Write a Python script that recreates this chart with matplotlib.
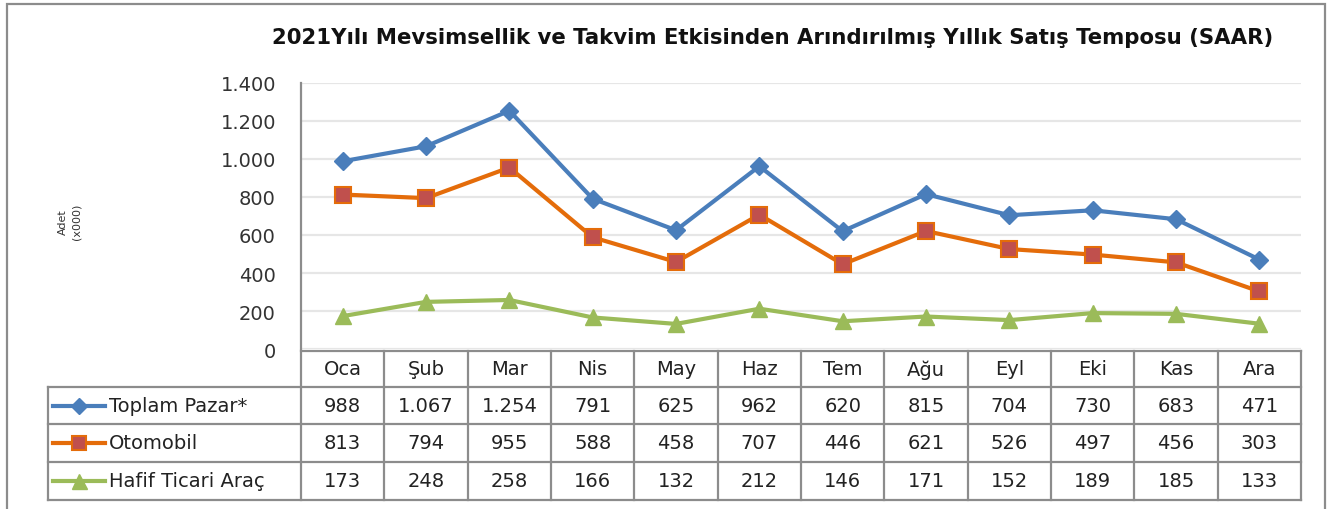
"""
    2021 SAAR chart with data table underneath
"""
import numpy as np
import matplotlib.pyplot as plt
from matplotlib.lines import Line2D
from matplotlib.patches import Rectangle

months = ["Oca", "Şub", "Mar", "Nis", "May", "Haz", "Tem", "Ağu", "Eyl", "Eki", "Kas", "Ara"]
toplam = [988, 1067, 1254, 791, 625, 962, 620, 815, 704, 730, 683, 471]
otomobil = [813, 794, 955, 588, 458, 707, 446, 621, 526, 497, 456, 303]
hafif = [173, 248, 258, 166, 132, 212, 146, 171, 152, 189, 185, 133]
series_names = ["Toplam Pazar*", "Otomobil", "Hafif Ticari Araç"]
yticks = [0, 200, 400, 600, 800, 1000, 1200, 1400]


def fmt(v):
    return "{:,}".format(v).replace(",", ".")


W, H = 1339, 510
plt.rcParams['font.family'] = ['DejaVu Sans']
fig = plt.figure(figsize=(W / 100, H / 100), dpi=100)

# outer frame
fig.add_artist(Rectangle((7 / W, -0.05), 1318 / W, 1.05 - 5 / H, transform=fig.transFigure,
                         fill=False, edgecolor="#8c8c8c", linewidth=1.6))

x0, x1, y_top, y_bot = 301, 1301, 84, 350
ax = fig.add_axes([x0 / W, 1 - y_bot / H, (x1 - x0) / W, (y_bot - y_top) / H])

styles = [
    dict(color="#4a7ebb", marker="D", markersize=9.5, mfc="#4a7ebb", mec="#4a7ebb"),
    dict(color="#e46c0a", marker="s", markersize=11, mfc="#c0504d", mec="#e46c0a", mew=1.5),
    dict(color="#9bbb59", marker="^", markersize=12, mfc="#9bbb59", mec="#9bbb59"),
]
data = [toplam, otomobil, hafif]
x = np.arange(len(months))
for vals, st in zip(data, styles):
    ax.plot(x, vals, linewidth=3, clip_on=False, zorder=3, **st)

ax.set_xlim(-0.5, 11.5)
ax.set_ylim(0, 1400)
ax.set_yticks(yticks)
ax.set_yticklabels([fmt(v) for v in yticks], fontsize=14, color="#333333")
ax.tick_params(axis="y", length=0, pad=18)
ax.set_xticks([])
ax.grid(axis="y", color="#e6e6e6", linewidth=1.6)
ax.set_axisbelow(True)
for s in ["top", "right", "bottom"]:
    ax.spines[s].set_visible(False)
ax.spines["left"].set_color("#8c8c8c")
ax.spines["left"].set_linewidth(1.6)

fig.text(773 / W, 1 - 38 / H,
         "2021Yılı Mevsimsellik ve Takvim Etkisinden Arındırılmış Yıllık Satış Temposu (SAAR)",
         ha="center", va="center", fontsize=15.3, fontweight="bold", color="#111111")
fig.text(70 / W, 1 - 222 / H, "Adet\n(x000)", rotation=90, ha="center", va="center",
         fontsize=8, color="#333333", linespacing=1.5)

# data table
gray = "#8c8c8c"
row_lines = [352, 388, 425, 463, 501]
tl = 48
def fy(py):
    return 1 - py / H
def fx(px):
    return px / W

col_w = (x1 - x0) / 12
lines = []
# horizontal lines
lines.append(((x0, x1), (row_lines[0], row_lines[0])))
for r in row_lines[1:]:
    lines.append(((tl, x1), (r, r)))
# vertical lines
lines.append(((tl, tl), (row_lines[1], row_lines[-1])))
for i in range(13):
    xx = x0 + i * col_w
    lines.append(((xx, xx), (row_lines[0], row_lines[-1])))
for (xs, ys) in lines:
    fig.add_artist(Line2D([fx(v) for v in xs], [fy(v) for v in ys], color=gray, linewidth=1.6))

for i, m in enumerate(months):
    cx = x0 + (i + 0.5) * col_w
    fig.text(fx(cx), fy((row_lines[0] + row_lines[1]) / 2), m, ha="center", va="center",
             fontsize=14, color="#222222")
    for r, vals in enumerate(data):
        cy = (row_lines[r + 1] + row_lines[r + 2]) / 2
        fig.text(fx(cx), fy(cy), fmt(vals[i]), ha="center", va="center",
                 fontsize=14, color="#222222")

for r, (name, st) in enumerate(zip(series_names, styles)):
    cy = (row_lines[r + 1] + row_lines[r + 2]) / 2
    fig.add_artist(Line2D([fx(53), fx(105)], [fy(cy), fy(cy)], color=st["color"], linewidth=3))
    fig.add_artist(Line2D([fx(79)], [fy(cy)], linestyle="none", marker=st["marker"],
                          markersize=st["markersize"] * 0.9, mfc=st["mfc"], mec=st["mec"],
                          mew=st.get("mew", 1)))
    fig.text(fx(109), fy(cy), name, ha="left", va="center", fontsize=14, color="#222222")

plt.savefig("out.png", dpi=100)
